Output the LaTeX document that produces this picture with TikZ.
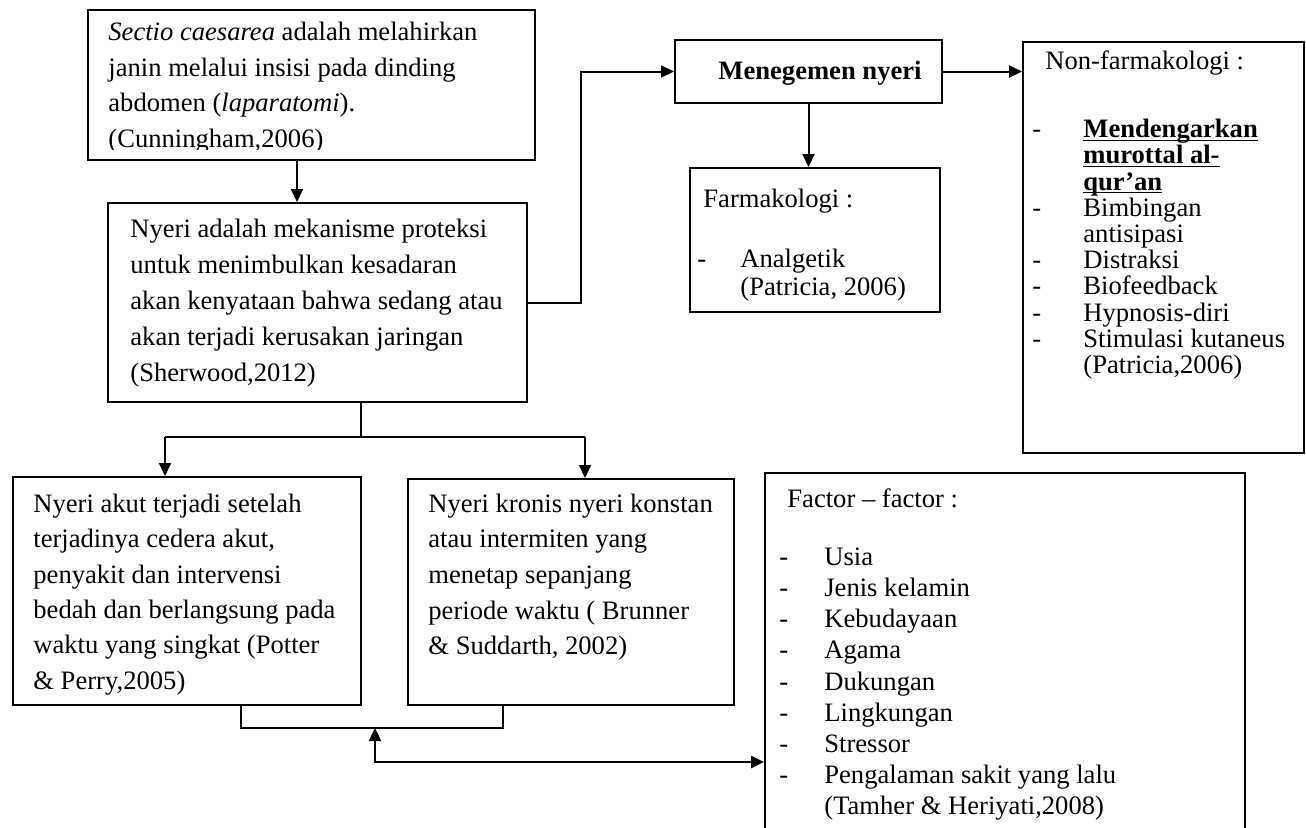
\documentclass[tikz,border=0pt]{standalone}
\usepackage{fontspec}
\setmainfont{Liberation Serif}
\usetikzlibrary{arrows.meta, fit, positioning}

\newcommand{\butir}[2][21.5pt]{\makebox[#1][l]{-}#2}
\newcommand{\garisbawah}[1]{\underline{\smash{#1}}}

\begin{document}
\begin{tikzpicture}[x=0.5pt, y=-0.5pt,
    kotak/.style={draw, line width=1pt, inner sep=0pt},
    isi/.style={anchor=north west, inner sep=0pt, align=left, font=\fontsize{13.3}{17.75}\selectfont},
    garis/.style={line width=1pt},
    panah/.style={garis, -{Triangle[length=6.5pt, width=6pt]}}
]
    \useasboundingbox (0,0) rectangle (1306,827);

    % Kotak
    \node[kotak, fit={(88,10) (535,160)}] (sc) {};
    \node[kotak, fit={(108,203) (527,402)}] (nyeri) {};
    \node[kotak, fit={(675,40) (942,103)}] (mng) {};
    \node[kotak, fit={(690,168) (940,312)}] (farm) {};
    \node[kotak, fit={(1023,42) (1304,453)}] (nonf) {};
    \node[kotak, fit={(13,477) (361,705)}] (akut) {};
    \node[kotak, fit={(408,479) (734,705)}] (kron) {};
    \node[kotak, fit={(765,473) (1245,850)}] (fac) {};

    % Isi kotak
    \begin{scope}
        \clip (88,10) rectangle (535,149);
        \node[isi, font=\fontsize{13.3}{17.85}\selectfont] (sc-txt) at (108,21.5)
            {\textit{Sectio caesarea} adalah melahirkan\\
             janin melalui insisi pada dinding\\
             abdomen (\textit{laparatomi}).\\
             (Cunningham,2006)};
    \end{scope}
    \node[isi, font=\fontsize{13.3}{18}\selectfont] (nyeri-txt) at (130,218.5)
        {Nyeri adalah mekanisme proteksi\\
         untuk menimbulkan kesadaran\\
         akan kenyataan bahwa sedang atau\\
         akan terjadi kerusakan jaringan\\
         (Sherwood,2012)};
    \node[anchor=base, inner sep=0pt, font=\fontsize{13.3}{16}\selectfont\bfseries] (mng-txt) at (820,79)
        {Menegemen nyeri};
    \node[isi, font=\fontsize{13.3}{14}\selectfont] (farm-txt) at (697,188.5)
        {\hspace*{3pt}Farmakologi :\\[16pt]
         \butir{Analgetik}\\
         \hspace*{21.5pt}(Patricia, 2006)};
    \node[isi, font=\fontsize{13.3}{13.1}\selectfont] (nonf-txt) at (1032,50.5)
        {\hspace*{6.5pt}Non-farmakologi :\\[20.9pt]
         \butir[25.5pt]{\textbf{\garisbawah{Mendengarkan}}}\\
         \hspace*{25.5pt}\textbf{\garisbawah{murottal al-}}\\
         \hspace*{25.5pt}\textbf{\garisbawah{qur’an}}\\
         \butir[25.5pt]{Bimbingan}\\
         \hspace*{25.5pt}antisipasi\\
         \butir[25.5pt]{Distraksi}\\
         \butir[25.5pt]{Biofeedback}\\
         \butir[25.5pt]{Hypnosis-diri}\\
         \butir[25.5pt]{Stimulasi kutaneus}\\
         \hspace*{25.5pt}(Patricia,2006)};
    \node[isi, font=\fontsize{13.3}{17.7}\selectfont] (akut-txt) at (33,493.5)
        {Nyeri akut terjadi setelah\\
         terjadinya cedera akut,\\
         penyakit dan intervensi\\
         bedah dan berlangsung pada\\
         waktu yang singkat (Potter\\
         \& Perry,2005)};
    \node[isi, font=\fontsize{13.3}{17.8}\selectfont] (kron-txt) at (428,493.5)
        {Nyeri kronis nyeri konstan\\
         atau intermiten yang\\
         menetap sepanjang\\
         periode waktu ( Brunner\\
         \& Suddarth, 2002)};
    \node[isi, font=\fontsize{13.3}{15.55}\selectfont] (fac-txt) at (779,488.5)
        {\hspace*{4pt}Factor – factor :\\[13.45pt]
         \butir[22.5pt]{Usia}\\
         \butir[22.5pt]{Jenis kelamin}\\
         \butir[22.5pt]{Kebudayaan}\\
         \butir[22.5pt]{Agama}\\
         \butir[22.5pt]{Dukungan}\\
         \butir[22.5pt]{Lingkungan}\\
         \butir[22.5pt]{Stressor}\\
         \butir[22.5pt]{Pengalaman sakit yang lalu}\\
         \hspace*{22.5pt}(Tamher \& Heriyati,2008)};

    % Panah atas
    \coordinate (ab) at (297,0);
    \draw[panah] (ab |- sc.south) -- (ab |- nyeri.north);
    \draw[panah] (nyeri.east) -- ++(53,0) |- (mng.west);
    \draw[panah] (mng.south) -- (mng.south |- farm.north);
    \draw[panah] (mng.east) -- (mng.east -| nonf.west);

    % Cabang akut / kronis
    \coordinate (cab) at (361,437);
    \coordinate (ca) at (165,437);
    \coordinate (ck) at (585,437);
    \draw[garis] (cab |- nyeri.south) -- (cab);
    \draw[garis] (ca) -- (ck);
    \draw[panah] (ca) -- (ca |- akut.north);
    \draw[panah] (ck) -- (ck |- kron.north);

    % Gabungan bawah ke faktor
    \coordinate (jl) at (241,728);
    \coordinate (jr) at (503,728);
    \coordinate (jm) at (375,728);
    \coordinate (jk) at (375,762);
    \draw[line width=0.7pt] (jl |- akut.south) -- (jl) -- (jr) -- (jr |- kron.south);
    \draw[line width=1.25pt, {Triangle[length=6.5pt, width=6pt]}-{Triangle[length=6.5pt, width=6pt]}]
        (jm) -- (jk) -- (jk -| fac.west);

\end{tikzpicture}
\end{document}
